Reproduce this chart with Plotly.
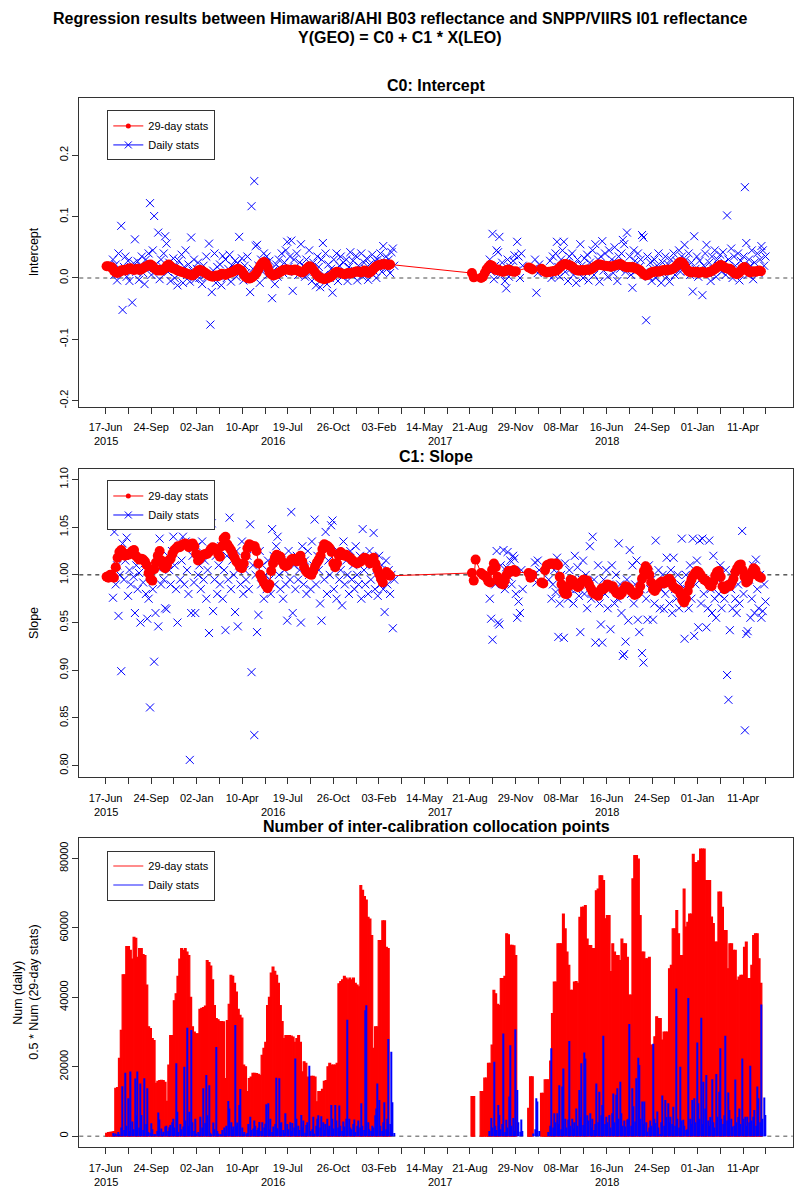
import pandas as pd
import plotly.graph_objects as go

# ======================= DATA =======================
# 29-day stats: one value every 4 days, two observation periods
RUN_START_A = "2015-06-19"
RUN_START_B = "2017-08-26"
RUN_STEP_DAYS = 4
# Daily stats (sampled every 3 days), two observation periods
DAILY_START_A = "2015-07-03"
DAILY_START_B = "2017-10-04"
DAILY_STEP_DAYS = 3

# ---- C0 intercept, 29-day stats ----
c0_29d_a = [0.019, 0.019, 0.018, 0.017, 0.012,
            0.009, 0.008, 0.010,
            0.012, 0.013, 0.012, 0.014, 0.015, 0.016, 0.014, 0.013, 0.014, 0.015, 0.013, 0.014, 0.016, 0.018, 0.019, 0.021,
            0.022, 0.020, 0.016, 0.014,
            0.012, 0.013, 0.012, 0.014, 0.016,
            0.020, 0.022, 0.019, 0.016,
            0.015, 0.014, 0.012, 0.011, 0.010, 0.009, 0.008,
            0.007, 0.006, 0.005, 0.004, 0.006, 0.009, 0.012,
            0.013, 0.012, 0.010, 0.008, 0.006, 0.004, 0.003,
            0.002, 0.003, 0.004, 0.003, 0.005, 0.007, 0.006,
            0.005, 0.007, 0.008, 0.009, 0.010, 0.012, 0.014,
            0.015, 0.013, 0.011, 0.006, 0.002, 0.000,
            -0.001, 0.000, 0.002, 0.005, 0.008,
            0.014, 0.020, 0.024, 0.026, 0.024, 0.018,
            0.010, 0.006, 0.004, 0.005, 0.006,
            0.008, 0.010, 0.012, 0.013, 0.014, 0.014, 0.013, 0.012, 0.013, 0.014, 0.013,
            0.011, 0.010, 0.009, 0.011, 0.014, 0.017, 0.019,
            0.017, 0.013, 0.009, 0.005,
            0.002, 0.000, -0.001, -0.002, -0.001, 0.000, 0.001,
            0.003, 0.006, 0.009, 0.010, 0.009, 0.008, 0.007,
            0.006, 0.007, 0.008, 0.007, 0.008, 0.009, 0.010, 0.011, 0.010, 0.009, 0.010,
            0.012, 0.011, 0.008, 0.009, 0.012, 0.015, 0.018,
            0.020, 0.021, 0.022, 0.022, 0.023, 0.022, 0.021, 0.022]
c0_29d_b = [0.008, 0.001, None, None, None, 0.000,
            0.002, 0.008, 0.014, 0.018, 0.021, 0.020, 0.016, 0.013, 0.014, 0.012,
            0.011, 0.010, 0.011, 0.013, 0.014, 0.012, 0.011, 0.010, 0.011,
            None, None, None, None, None, None,
            0.017, 0.016, 0.014,
            None, None, None, None,
            0.015, 0.012, 0.010, 0.009, 0.010, 0.010, 0.011,
            0.011, 0.012, 0.014, 0.017, 0.020,
            0.022, 0.023, 0.022, 0.021, 0.020, 0.018,
            0.015, 0.013, 0.012, 0.012, 0.013, 0.012, 0.013,
            0.014, 0.013, 0.014, 0.016, 0.018,
            0.020, 0.022, 0.022, 0.021, 0.020, 0.020, 0.019,
            0.019, 0.018, 0.019, 0.020, 0.021, 0.022,
            0.023, 0.021, 0.019, 0.018, 0.017,
            0.018, 0.017, 0.018, 0.016, 0.015,
            0.014, 0.012, 0.009, 0.006, 0.004,
            0.005, 0.007, 0.009, 0.010, 0.010, 0.011,
            0.010, 0.011, 0.012, 0.013, 0.012, 0.014,
            0.013, 0.014, 0.015, 0.017, 0.020,
            0.024, 0.026, 0.025, 0.021,
            0.016, 0.012, 0.010, 0.009, 0.010,
            0.009, 0.010, 0.008, 0.009, 0.010, 0.009, 0.008, 0.009, 0.010, 0.011,
            0.013, 0.015, 0.017, 0.019, 0.021, 0.020,
            0.017, 0.016, 0.015, 0.015, 0.012,
            0.009, 0.007, 0.006, 0.008, 0.012,
            0.016, 0.018, 0.015, 0.011, 0.009,
            0.010, 0.011, 0.010, 0.011, 0.012, 0.011]

# ---- C0 intercept, daily stats ----
c0_daily_a = [0.030, 0.005, 0.022, -0.004, 0.040, 0.012, 0.085, -0.052, 0.018, 0.035,
              0.002, 0.028, -0.005, 0.015, -0.040, 0.024, 0.063, 0.010, 0.027, -0.003,
              0.020, 0.035, 0.008, -0.010, 0.030, 0.016, 0.040, 0.122, 0.005, 0.045,
              0.101, 0.022, 0.012, 0.074, -0.002, 0.030, 0.018, 0.040, 0.068, 0.056,
              0.010, 0.025, -0.005, 0.015, 0.032, 0.000, 0.020, -0.012, 0.028, 0.008,
              0.038, -0.008, 0.018, 0.045, 0.005, 0.022, -0.006, 0.066, 0.012, 0.030,
              -0.002, 0.015, 0.025, 0.000, 0.010, -0.010, 0.020, 0.005, 0.035, 0.002,
              0.056, -0.076, -0.023, 0.012, 0.040, -0.008, 0.018, 0.003, 0.022, -0.012,
              0.036, 0.008, 0.030, 0.000, 0.015, 0.038, -0.006, 0.020, 0.010, 0.028,
              0.002, 0.024, 0.067, 0.012, 0.032, -0.004, 0.020, 0.008, 0.035, 0.000,
              -0.023, 0.117, 0.015, 0.158, 0.052, 0.054, 0.020, -0.008, 0.030, 0.010,
              0.040, 0.025, 0.035, 0.005, 0.028, 0.015, -0.033, 0.012, -0.010, 0.022,
              0.002, 0.030, 0.015, 0.040, 0.008, 0.025, 0.045, 0.059, 0.018, 0.035,
              0.061, -0.021, 0.030, 0.010, 0.040, 0.005, 0.025, 0.055, 0.012, 0.020,
              0.002, 0.030, 0.015, 0.045, 0.008, -0.005, 0.025, 0.010, -0.012, 0.035,
              0.018, -0.015, 0.030, 0.057, 0.005, 0.040, -0.010, 0.022, 0.000, 0.015,
              -0.024, 0.030, 0.008, 0.040, -0.005, 0.020, 0.035, 0.002, 0.025, 0.010,
              0.030, -0.005, 0.018, 0.042, 0.005, 0.028, 0.012, 0.036, -0.004, 0.020,
              0.010, 0.040, 0.002, 0.025, 0.015, 0.032, -0.003, 0.022, 0.008, 0.038,
              0.012, 0.028, 0.000, 0.030, 0.018, 0.040, 0.010, 0.052, 0.025, 0.035,
              0.015, 0.030, 0.008, 0.042, 0.048, 0.020]
c0_daily_b = [0.030, 0.010, 0.072, -0.002, 0.020, 0.045, 0.042, 0.067, 0.005, 0.025,
              0.015, -0.005, -0.017, 0.030, 0.002, 0.018, 0.008, 0.028, 0.037, 0.012,
              0.059, 0.035, 0.000, 0.040, 0.020,
              None, None, None, None, None, None, None,
              0.015, 0.030, -0.024, 0.008, 0.022,
              None, None, None, None, None, None,
              0.012, 0.028, 0.000, 0.035, 0.005, 0.040, 0.059,
              0.018, 0.002, 0.030, 0.045, 0.059, 0.010, 0.025, -0.005, 0.035, 0.015,
              0.040, 0.005, 0.022, -0.008, 0.030, 0.012, 0.055, 0.020, 0.000, 0.032,
              0.010, 0.038, -0.004, 0.025, 0.015, 0.045, 0.005, 0.055, 0.020, 0.030,
              -0.006, 0.035, 0.060, 0.012, 0.040, 0.022, 0.002, 0.045, 0.018, 0.030,
              0.008, 0.050, 0.025, -0.005, 0.035, 0.015, 0.040, 0.062, 0.055, 0.010,
              0.074, 0.020, 0.035, 0.005, -0.016, 0.045, 0.028, 0.012, 0.040, 0.018,
              0.030, 0.070, 0.066, 0.010, -0.069, 0.035, 0.002, 0.025, -0.005, 0.015,
              0.030, 0.000, 0.020, 0.040, 0.008, -0.008, 0.025, 0.012, 0.035, 0.002,
              0.022, -0.006, 0.030, 0.015, 0.040, 0.005, 0.028, 0.018, 0.045, 0.010,
              0.035, 0.020, 0.054, 0.030, 0.012, 0.040, 0.005, 0.025, -0.022, 0.068,
              0.015, 0.035, 0.002, 0.028, 0.010, -0.028, 0.020, 0.040, 0.054, 0.008,
              0.025, -0.005, 0.035, 0.015, 0.045, 0.002, 0.030, 0.020, 0.038, 0.010,
              0.042, 0.025, 0.005, 0.102, 0.030, 0.015, 0.048, 0.000, 0.035, 0.020,
              0.010, 0.040, -0.004, 0.028, 0.015, 0.035, 0.148, 0.057, 0.005, 0.030,
              0.020, 0.045, -0.002, 0.025, 0.012, 0.040, 0.008, 0.030, 0.052, 0.045,
              0.020, 0.035]

# ---- C1 slope, 29-day stats ----
c1_29d_a = [0.998, 0.997, 1.000, 0.999, 0.997,
            1.008, 1.018, 1.024, 1.026, 1.022,
            1.020, 1.022, 1.021, 1.023, 1.025,
            1.026, 1.020, 1.018, 1.016, 1.017,
            1.016, 1.014, 1.010, 1.002, 0.996,
            0.994, 1.006, 1.013, 1.020, 1.025,
            1.015, 1.009, 1.007, 1.010, 1.015,
            1.017, 1.022, 1.026, 1.028, 1.030,
            1.029, 1.031, 1.032, 1.033, 1.031,
            1.029, 1.032, 1.033, 1.030, 1.022,
            1.015, 1.017, 1.020, 1.021, 1.022,
            1.022, 1.024, 1.027, 1.029, 1.028,
            1.026, 1.022, 1.019, 1.030, 1.038,
            1.040, 1.032, 1.029, 1.026, 1.022,
            1.018, 1.014, 1.012, 1.008, 1.007,
            1.012, 1.020, 1.028, 1.032, 1.031,
            1.030, 1.030, 1.025, 1.012, 1.000,
            0.996, 0.992, 0.989, 0.986, 0.990,
            1.004, 1.012, 1.018, 1.021, 1.020,
            1.019, 1.014, 1.010, 1.009, 1.010,
            1.013, 1.016, 1.017, 1.015, 1.014,
            1.018, 1.020, 1.014, 1.008, 1.004,
            1.002, 1.001, 1.000, 1.004, 1.009,
            1.013, 1.016, 1.020, 1.027, 1.032,
            1.031, 1.030, 1.028, 1.024, 1.012,
            1.008, 1.012, 1.020, 1.024, 1.022,
            1.020, 1.021, 1.019, 1.018, 1.016,
            1.014, 1.013, 1.012, 1.013, 1.014,
            1.016, 1.018, 1.017, 1.015, 1.012,
            1.016, 1.018, 1.012, 1.006, 1.001,
            0.996, 0.992, 1.000, 1.003, 1.001, 0.999]
c1_29d_b = [1.002, 0.994, 1.016, None, None,
            1.002, 1.000, 0.999, 0.997, 0.993, 0.992, 1.005, 1.012, 1.008, 0.998,
            0.993, 0.991, 0.990, 0.994, 1.000, 1.004, 1.003, 1.004, 1.005, 1.003,
            None, None, None, None, None, None,
            1.002, 0.997, 1.000,
            None, None, None, None,
            0.992, 0.991, 1.005, 1.010, 1.011, 1.012, 1.012, 1.011, 1.012, 1.010,
            0.998, 0.990, 0.983, 0.980, 0.980, 0.988, 0.995, 0.994, 0.992, 0.989,
            0.987, 0.989, 0.993, 0.995, 0.994, 0.994, 0.990, 0.986, 0.982, 0.980,
            0.981, 0.978, 0.983, 0.986, 0.985, 0.987, 0.990, 0.989, 0.987, 0.988,
            0.984, 0.981, 0.980, 0.979, 0.981, 0.985, 0.988, 0.987, 0.986, 0.983,
            0.981, 0.979, 0.980, 0.982, 0.988, 0.996, 1.004, 1.009, 1.006, 1.000,
            0.992, 0.985, 0.983, 0.986, 0.990, 0.992, 0.993, 0.991, 0.992, 0.995,
            0.996, 0.993, 0.988, 0.986, 0.985, 0.984, 0.980, 0.974, 0.971, 0.975,
            0.983, 0.990, 0.995, 0.999, 1.002, 1.004, 1.003, 1.000, 0.997, 0.995,
            0.994, 0.992, 0.989, 0.988, 0.993, 0.999, 1.003, 1.004, 0.998, 0.988,
            0.985, 0.987, 0.989, 0.988, 0.992, 0.996, 1.003, 1.007, 1.010, 1.011,
            1.005, 0.998, 0.992, 0.994, 0.999, 1.003, 1.007, 1.005, 1.000, 0.998,
            0.997]

# ---- C1 slope, daily stats ----
c1_daily_a = [0.976, 1.045, 0.990, 1.010, 0.957, 1.000, 0.899, 1.033, 0.995, 1.015,
              1.039, 0.978, 1.005, 0.990, 1.020, 0.998, 0.960, 1.010, 0.985, 1.002,
              0.950, 1.052, 0.992, 1.012, 0.980, 0.954, 0.975, 0.861, 1.000, 0.985,
              0.909, 0.960, 1.008, 0.946, 1.038, 0.990, 1.015, 0.995, 0.965, 0.964,
              1.020, 1.005, 0.990, 1.025, 1.040, 1.010, 0.985, 0.950, 1.030, 0.995,
              1.015, 1.040, 0.990, 1.035, 1.005, 0.980, 0.806, 0.960, 1.020, 0.992,
              0.960, 1.030, 1.000, 1.010, 0.985, 1.035, 0.995, 1.015, 0.975, 1.005,
              0.939, 1.067, 1.054, 0.962, 0.995, 1.020, 0.980, 1.010, 0.990, 1.030,
              0.975, 1.005, 0.942, 1.020, 0.995, 1.060, 0.985, 1.015, 1.000, 0.961,
              1.025, 0.946, 1.010, 0.990, 1.035, 0.980, 1.005, 0.995, 1.020, 0.985,
              1.053, 0.898, 1.010, 0.832, 1.000, 0.940, 0.958, 1.025, 0.990, 1.010,
              0.975, 1.000, 0.985, 1.015, 0.995, 0.980, 1.048, 1.020, 0.990, 1.030,
              1.040, 1.000, 0.985, 1.015, 0.975, 1.005, 0.990, 0.952, 1.025, 0.995,
              1.066, 0.960, 1.010, 0.985, 1.020, 0.995, 1.005, 0.950, 1.030, 0.990,
              1.015, 0.980, 1.025, 1.000, 0.985, 1.035, 1.010, 1.058, 0.990, 1.020,
              1.005, 0.970, 0.952, 1.030, 0.995, 1.045, 0.980, 1.015, 1.000, 1.052,
              1.057, 0.985, 1.010, 0.975, 1.025, 0.995, 1.005, 0.968, 1.035, 0.990,
              1.015, 1.000, 0.980, 1.025, 0.995, 1.010, 0.985, 1.030, 1.000, 0.990,
              1.020, 0.975, 1.048, 1.005, 0.990, 1.015, 0.980, 1.025, 0.995, 1.010,
              1.044, 0.985, 1.005, 0.978, 1.020, 0.990, 1.010, 0.985, 0.961, 1.015,
              0.990, 1.005, 0.980, 1.000, 0.944, 0.995]
c1_daily_b = [0.975, 0.954, 0.932, 1.005, 0.990, 1.025, 0.950, 0.948, 1.010, 0.995,
              1.026, 0.985, 1.008, 1.024, 0.998, 1.015, 0.990, 1.020, 1.017, 0.980,
              0.955, 0.972, 0.960, 1.005, 0.985,
              None, None, None, None, None, None, None,
              1.000, 1.013, 0.992, 1.015, 1.005,
              None, None, None, None, None, None,
              0.995, 1.010, 0.975, 0.990, 1.005, 0.982, 1.018,
              0.935, 0.970, 1.000, 0.980, 0.934, 1.012, 0.990, 0.975, 1.005, 0.985,
              0.995, 0.970, 1.020, 0.985, 1.008, 0.978, 0.940, 0.995, 1.015, 0.980,
              1.000, 0.965, 0.990, 1.030, 0.975, 1.040, 0.995, 0.929, 0.985, 1.010,
              0.970, 0.948, 0.929, 0.995, 0.980, 1.005, 0.965, 0.990, 0.943, 1.010,
              0.985, 0.970, 1.000, 0.975, 1.033, 0.990, 0.960, 0.915, 0.917, 0.930,
              0.995, 0.952, 1.026, 0.980, 1.010, 0.970, 0.990, 1.015, 0.953, 0.940,
              0.985, 0.918, 0.908, 1.000, 0.975, 0.953, 1.010, 0.985, 0.995, 0.953,
              0.970, 1.036, 0.990, 1.005, 0.965, 0.985, 1.000, 0.964, 0.980, 1.018,
              0.990, 0.970, 1.005, 0.960, 1.018, 0.985, 0.975, 1.000, 0.965, 0.990,
              1.038, 0.975, 0.933, 1.000, 0.985, 0.965, 1.010, 0.975, 1.038, 0.936,
              0.990, 1.015, 0.945, 1.036, 0.970, 1.038, 0.980, 0.995, 0.945, 0.965,
              1.036, 0.985, 0.960, 1.020, 0.975, 0.955, 0.995, 0.980, 1.010, 0.965,
              0.990, 0.975, 1.005, 0.895, 0.869, 0.942, 0.985, 0.965, 1.000, 0.975,
              0.960, 0.990, 0.970, 1.005, 1.046, 0.980, 0.837, 0.938, 0.941, 0.995,
              0.955, 0.975, 1.010, 0.960, 1.016, 0.985, 0.965, 1.000, 0.955, 0.962,
              0.990, 0.972]

# ---- Number of collocation points: 0.5 * Num (29-day stats) ----
num_29d_a = [800, 1000, 1100, 1200, 1300,
             13800, 14000, 22400, 30500, 46500,
             46500, 54600, 54600, 53500, 51000,
             57300, 57000, 51500, 54000, 54000,
             52300, 52000, 43500, 31500, 31000,
             28100, 27500, 15200, 15800, 16000,
             16100, 16000, 15500, 10000, 20500,
             29000, 29000, 39000, 41000, 46000,
             51000, 54000, 53500, 54000, 53000,
             52000, 40000, 31500, 30000, 29500,
             29500, 36500, 36800, 37000, 37500,
             50600, 50000, 49000, 45000, 37600,
             33900, 33500, 33000, 33000, 32900,
             16600, 33300, 38000, 46300, 46000,
             44000, 41500, 36500, 34800, 34000,
             20500, 20000, 12800, 16600, 17000,
             18100, 18100, 18000, 17800, 17500,
             23300, 25300, 27000, 37600, 40000,
             47000, 48700, 47500, 46300, 44000,
             37600, 33000, 28100, 29000, 29000,
             29000, 28800, 28500, 27000, 28100,
             29000, 27000, 18500, 21400, 21000,
             17000, 16800, 17200, 17200, 17000,
             9900, 12800, 12800, 13500, 15800,
             16000, 20000, 21000, 20500, 20500,
             20500, 21000, 43900, 44500, 45000,
             46000, 45500, 45000, 45500, 45000,
             45500, 44000, 43500, 43000, 72200,
             70800, 69000, 68000, 63000, 62500,
             57800, 25300, 31500, 31500, 56300,
             56300, 62000, 62000, 54400, 54000, 1000]
num_29d_b = [11400, 11400, None, None, None,
             12800, 12800, 16700, 16700, 21000, 21000, 26200, 42000, 41000, 38000,
             37700, 45400, 45400, 46000, 58300, 58000, 55000, 55000, 54800, 52000,
             None, None, None, None, None, None,
             8000, 17100, 17100,
             None, None, None, None,
             12300, 12300, 16200, 16200, 16200, 21600, 35300, 44400, 44400, 55400,
             55400, 55400, 64000, 59700, 53000, 49200, 42000, 42000, 44400, 44500,
             44000, 63000, 65900, 66000, 66400, 56800, 54900, 54900, 54000, 54000,
             70700, 71200, 75000, 75000, 73600, 62600, 63500, 63500, 47400, 55400,
             53000, 52000, 52000, 50600, 56800, 55400, 55400, 51500, 40600, 40600,
             74100, 80800, 80800, 79800, 63500, 53000, 53000, 51100, 51100, 51500,
             26200, 26200, 28600, 34400, 33900, 33900, 27700, 30000, 30000, 30000,
             48200, 49200, 59700, 59700, 65000, 58300, 52000, 52000, 71200, 60200,
             61600, 64000, 64000, 81200, 78800, 78800, 79300, 82700, 82700, 82700,
             73600, 73600, 73600, 63100, 61200, 55900, 55900, 70300, 70300, 65900,
             59200, 59200, 48200, 55400, 55400, 53500, 53500, 44900, 45800, 46300,
             46300, 54400, 55900, 45400, 45400, 49200, 57800, 58300, 58300, 51100,
             44000]

# ---- Number of collocation points: daily ----
num_daily_a = [900, 200, 800, 300, 1200, 500, 2500, 14400, 1800, 18300,
               3000, 10900, 1500, 18600, 4200, 2000, 16600, 6000, 18600, 2500,
               15200, 6100, 1800, 16700, 3500, 13800, 1200, 900, 3700, 2000,
               600, 400, 1500, 6800, 4800, 2200, 500, 1300, 2800, 3000,
               1500, 2600, 3200, 4000, 5000, 2500, 21000, 7000, 1200, 3500,
               2000, 2800, 20000, 4500, 31200, 3000, 7000, 30600, 4000, 1500,
               5000, 800, 1200, 500, 5600, 2500, 13800, 3800, 17600, 6000,
               14700, 1000, 400, 3900, 2000, 25700, 1500, 800, 300, 500,
               1800, 2500, 1000, 3000, 10100, 8000, 4000, 1900, 2800, 32000,
               3000, 3900, 9000, 13600, 2500, 600, 1200, 400, 900, 3500,
               5600, 1800, 2200, 4500, 3000, 1800, 2400, 4100, 1500, 4000,
               2500, 3600, 9200, 9500, 2000, 5000, 1200, 2800, 3500, 16800,
               2300, 16700, 3800, 4000, 1800, 900, 6600, 3500, 2000, 4000,
               1500, 3800, 2500, 22400, 5000, 3000, 1800, 6100, 2500, 4500,
               1000, 3200, 4000, 20300, 1500, 2000, 5600, 800, 3000, 5000,
               6000, 2500, 5700, 4000, 1800, 3500, 5000, 2000, 3000, 9000,
               5000, 2200, 9000, 4500, 2500, 8800, 3000, 1500, 4200, 2800,
               5000, 33500, 5000, 2500, 2000, 3500, 4800, 1200, 3000, 4500,
               2500, 9500, 3000, 1800, 36300, 37700, 4000, 2000, 1500, 3000,
               2500, 6000, 8000, 15200, 10400, 3000, 1500, 4000, 9800, 2000,
               5000, 28000, 3500, 24300, 9800, 900]
num_daily_b = [1500, 5200, 2500, 21400, 3000, 1800, 9000, 6100, 2000, 3500,
               29600, 1200, 4700, 2500, 11400, 26200, 3000, 5200, 1500, 30800,
               13300, 4000, 1300, 4800, 1500,
               None, None, None, None, None, None, None,
               800, 2000, 10900, 10000, 1500,
               None, None, None, None, None, None,
               1200, 3000, 25300, 2500, 6600, 4000, 6600,
               3500, 14700, 2000, 14300, 19500, 5000, 2500, 4800, 27400, 3000,
               5000, 2200, 4000, 8000, 3000, 13300, 5500, 21000, 3200, 24100,
               22400, 6000, 4500, 6600, 2500, 5000, 1800, 3500, 15200, 4000,
               12800, 6000, 9000, 28900, 3500, 5600, 4000, 6100, 2500, 6600,
               12300, 4000, 11900, 13800, 5000, 15700, 6600, 3000, 4500, 2800,
               4800, 5000, 32300, 3000, 13800, 8600, 4200, 16700, 22600, 20500,
               5000, 10000, 3500, 10000, 4000, 1300, 2500, 4500, 3000, 26600,
               5000, 3800, 7100, 2500, 600, 4000, 11700, 3000, 10400, 5500,
               9500, 4000, 5600, 3500, 8500, 3000, 42500, 5000, 2500, 20000,
               4500, 4700, 3000, 1800, 2000, 39800, 5000, 3500, 10400, 10900,
               4000, 27000, 9500, 5000, 34100, 3500, 15700, 8000, 17600, 4500,
               3000, 5500, 16400, 4000, 2500, 17900, 5600, 12800, 25300, 5000,
               3500, 6000, 28900, 4500, 12600, 7500, 5000, 2800, 3000, 16300,
               4000, 5500, 8000, 3500, 22400, 5000, 5600, 3000, 5600, 4000,
               20300, 4500, 5600, 7500, 3000, 14300, 10900, 4000, 37900, 5000,
               11100, 6100]

# ---- axis labels ----
TICK_LABELS = ["17-Jun", "24-Sep", "02-Jan", "10-Apr", "19-Jul", "26-Oct", "03-Feb",
               "14-May", "21-Aug", "29-Nov", "08-Mar", "16-Jun", "24-Sep", "01-Jan", "11-Apr"]
TICK_ORIGIN = "2015-06-17"
TICK_SPACING_DAYS = 99.57
YEAR_LABELS = ["2015", "2016", "2017", "2018"]
YEAR_LABEL_DATES = ["2015-06-17", "2016-06-17", "2017-06-17", "2018-06-17"]

C0_TICKS = [-0.2, -0.1, 0.0, 0.1, 0.2]
C0_TICKTEXT = ["-0.2", "-0.1", "0.0", "0.1", "0.2"]
C1_TICKS = [0.80, 0.85, 0.90, 0.95, 1.00, 1.05, 1.10]
C1_TICKTEXT = ["0.80", "0.85", "0.90", "0.95", "1.00", "1.05", "1.10"]
NUM_TICKS = [0, 20000, 40000, 60000, 80000]
NUM_TICKTEXT = ["0", "20000", "40000", "60000", "80000"]

MAIN_TITLE_1 = "Regression results between Himawari8/AHI B03 reflectance and SNPP/VIIRS I01 reflectance"
MAIN_TITLE_2 = "Y(GEO) = C0 + C1 * X(LEO)"
PANEL_TITLES = ["C0: Intercept", "C1: Slope", "Number of inter-calibration collocation points"]


# ======================= HELPERS =======================
def series(start, step, values):
    dates = pd.date_range(start, periods=len(values), freq=f"{step}D")
    xs = [d for d, v in zip(dates, values) if v is not None]
    ys = [v for v in values if v is not None]
    return xs, ys


def joined(start_a, start_b, step, vals_a, vals_b):
    xa, ya = series(start_a, step, vals_a)
    xb, yb = series(start_b, step, vals_b)
    return xa + xb, ya + yb


FONT = "Liberation Sans, Arial, sans-serif"
W, H = 800, 1200
PLOT_X = (79.3, 792.7)
PANELS_PX = [(97.3, 406.7), (468.7, 778.3), (839.3, 1149.3)]
X_RANGE = ["2015-04-20 08:00:00", "2019-07-28 12:00:00"]
DAY_MS = 86400000

origin = pd.Timestamp(TICK_ORIGIN)
tickvals, ticktext = [], []
for k in range(2 * len(TICK_LABELS)):
    t = origin + pd.Timedelta(days=TICK_SPACING_DAYS * k / 2)
    tickvals.append(t.strftime("%Y-%m-%d %H:%M:%S"))
    ticktext.append(TICK_LABELS[k // 2] if k % 2 == 0 else "")

fig = go.Figure()

cross = dict(symbol="x-thin-open", size=8, color="blue", line=dict(color="blue", width=1))
dot = dict(symbol="circle", size=10, color="red")

# ---------- Panel 1 : intercept ----------
xd, yd = joined(DAILY_START_A, DAILY_START_B, DAILY_STEP_DAYS, c0_daily_a, c0_daily_b)
fig.add_trace(go.Scatter(x=xd, y=yd, mode="markers", xaxis="x", yaxis="y", showlegend=False, marker=cross))
xr, yr = joined(RUN_START_A, RUN_START_B, RUN_STEP_DAYS, c0_29d_a, c0_29d_b)
fig.add_trace(go.Scatter(x=xr, y=yr, mode="lines+markers", xaxis="x", yaxis="y", showlegend=False,
                         line=dict(color="red", width=1), marker=dot))

# ---------- Panel 2 : slope ----------
xd, yd = joined(DAILY_START_A, DAILY_START_B, DAILY_STEP_DAYS, c1_daily_a, c1_daily_b)
fig.add_trace(go.Scatter(x=xd, y=yd, mode="markers", xaxis="x2", yaxis="y2", showlegend=False, marker=cross))
xr, yr = joined(RUN_START_A, RUN_START_B, RUN_STEP_DAYS, c1_29d_a, c1_29d_b)
fig.add_trace(go.Scatter(x=xr, y=yr, mode="lines+markers", xaxis="x2", yaxis="y2", showlegend=False,
                         line=dict(color="red", width=1), marker=dot))

# ---------- Panel 3 : number of points ----------
xr, yr = joined(RUN_START_A, RUN_START_B, RUN_STEP_DAYS, num_29d_a, num_29d_b)
fig.add_trace(go.Bar(x=xr, y=yr, xaxis="x3", yaxis="y3", showlegend=False,
                     width=RUN_STEP_DAYS * DAY_MS, marker=dict(color="red", line=dict(color="red", width=1.2))))
xd, yd = joined(DAILY_START_A, DAILY_START_B, DAILY_STEP_DAYS, num_daily_a, num_daily_b)
fig.add_trace(go.Bar(x=xd, y=yd, xaxis="x3", yaxis="y3", showlegend=False,
                     width=2.4 * DAY_MS, marker=dict(color="blue", line=dict(width=0))))

# ---------- legend entries ----------
for ax, ay, lg in [("x", "y", "legend"), ("x2", "y2", "legend2")]:
    fig.add_trace(go.Scatter(x=[None], y=[None], xaxis=ax, yaxis=ay, legend=lg, name="29-day stats",
                             mode="lines+markers", line=dict(color="red", width=1),
                             marker=dict(symbol="circle", size=5, color="red")))
    fig.add_trace(go.Scatter(x=[None], y=[None], xaxis=ax, yaxis=ay, legend=lg, name="Daily stats",
                             mode="lines+markers", line=dict(color="blue", width=1),
                             marker=dict(symbol="x-thin-open", size=7, color="blue",
                                         line=dict(color="blue", width=1))))
fig.add_trace(go.Scatter(x=[None], y=[None], xaxis="x3", yaxis="y3", legend="legend3", name="29-day stats",
                         mode="lines", line=dict(color="rgba(255,0,0,0.45)", width=2)))
fig.add_trace(go.Scatter(x=[None], y=[None], xaxis="x3", yaxis="y3", legend="legend3", name="Daily stats",
                         mode="lines", line=dict(color="rgba(0,0,255,0.45)", width=2)))

# ---------- axes ----------
xdom = [PLOT_X[0] / W, PLOT_X[1] / W]


def ydom(p):
    top, bot = PANELS_PX[p]
    return [1 - bot / H, 1 - top / H]


axis_common = dict(showline=True, mirror=True, linecolor="#333", linewidth=1, ticks="outside",
                   ticklen=6, tickcolor="#333", showgrid=False, zeroline=False,
                   tickfont=dict(family=FONT, size=11, color="black"))

layout = dict(width=W, height=H, margin=dict(l=0, r=0, t=0, b=0),
              paper_bgcolor="white", plot_bgcolor="white", barmode="overlay",
              font=dict(family=FONT, color="black"))
y_specs = [([-0.2098, 0.2933], C0_TICKS, C0_TICKTEXT),
           ([0.7877, 1.1115], C1_TICKS, C1_TICKTEXT),
           ([-3247, 85833], NUM_TICKS, NUM_TICKTEXT)]
for p in range(3):
    sx = "" if p == 0 else str(p + 1)
    layout["xaxis" + sx] = dict(axis_common, domain=xdom, anchor="y" + sx, type="date", range=X_RANGE,
                                tickmode="array", tickvals=tickvals, ticktext=ticktext,
                                ticklabelstandoff=4)
    rng, tv, tt = y_specs[p]
    layout["yaxis" + sx] = dict(axis_common, domain=ydom(p), anchor="x" + sx, range=rng,
                                tickmode="array", tickvals=tv, ticktext=tt, tickangle=-90)

legend_common = dict(bgcolor="white", bordercolor="#333", borderwidth=1, xanchor="left", yanchor="top",
                     font=dict(family=FONT, size=11, color="black"), itemwidth=30, tracegroupgap=0)
layout["legend"] = dict(legend_common, x=107.3 / W, y=1 - 109.7 / H)
layout["legend2"] = dict(legend_common, x=107.3 / W, y=1 - 480.7 / H)
layout["legend3"] = dict(legend_common, x=107.3 / W, y=1 - 851.7 / H)
fig.update_layout(**layout)

# ---------- reference lines ----------
for p, (yval, col, wdt) in enumerate([(0.0, "#888", 1.5), (1.0, "black", 1), (0.0, "#888", 1.5)]):
    sx = "" if p == 0 else str(p + 1)
    fig.add_shape(type="line", xref=f"x{sx} domain", yref=f"y{sx}", x0=0, x1=1, y0=yval, y1=yval,
                  line=dict(color=col, width=wdt, dash="4px,4px"), layer="below")

# ---------- titles & labels ----------
ann = []
ann.append(dict(text=f"<b>{MAIN_TITLE_1}</b>", x=0.5, y=1 - 18 / H, font=dict(size=16)))
ann.append(dict(text=f"<b>{MAIN_TITLE_2}</b>", x=0.5, y=1 - 37 / H, font=dict(size=16)))
xc = (xdom[0] + xdom[1]) / 2
for p, ty in enumerate([85, 456.7, 827.3]):
    ann.append(dict(text=f"<b>{PANEL_TITLES[p]}</b>", x=xc, y=1 - ty / H, font=dict(size=16)))
mids = [1 - (t + b) / 2 / H for t, b in PANELS_PX]
ann.append(dict(text="Intercept", x=34 / W, y=mids[0], textangle=-90, font=dict(size=12.5)))
ann.append(dict(text="Slope", x=34 / W, y=mids[1], textangle=-90, font=dict(size=12.5)))
ann.append(dict(text="Num (daily)", x=18 / W, y=mids[2], textangle=-90, font=dict(size=12.5)))
ann.append(dict(text="0.5 * Num (29-day stats)", x=34 / W, y=mids[2], textangle=-90, font=dict(size=12.5)))
for p, yy in enumerate([441.5, 813.3, 1184.3]):
    sx = "" if p == 0 else str(p + 1)
    for lab, d in zip(YEAR_LABELS, YEAR_LABEL_DATES):
        ann.append(dict(text=lab, x=d, xref="x" + sx, y=1 - yy / H, font=dict(size=11)))
for a in ann:
    a.setdefault("xref", "paper")
    a.setdefault("yref", "paper")
    a.update(showarrow=False, xanchor="center", yanchor="middle")
    a["font"] = dict(family=FONT, color="black", **a["font"])
fig.update_layout(annotations=ann)

fig.write_html("out.html", config={"displayModeBar": False},
               post_script="document.body.style.margin='0';")
